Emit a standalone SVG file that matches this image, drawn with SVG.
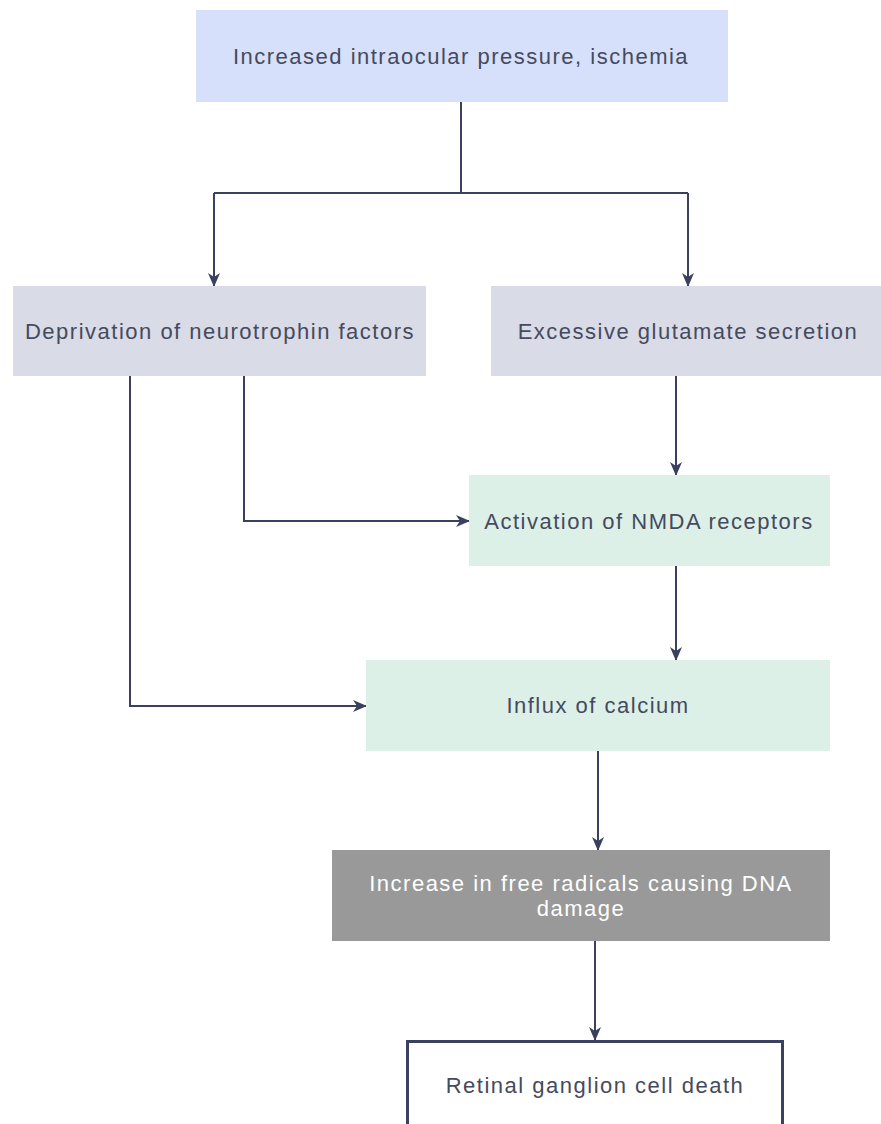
<svg xmlns="http://www.w3.org/2000/svg" width="881" height="1124" viewBox="0 0 881 1124">
<defs>
<marker id="arr" viewBox="0 0 14 14" refX="13" refY="7" markerWidth="14" markerHeight="14" markerUnits="userSpaceOnUse" orient="auto">
<path d="M0,1 L14,7 L0,13 L4,7 Z" fill="#3a4060"/>
</marker>
<style>
.lbl{font-family:"Liberation Sans",Arial,sans-serif;font-size:22px;fill:#454a5e;text-anchor:middle;letter-spacing:1.5px}
.w{fill:#ffffff}
.c{fill:none;stroke:#3a4060;stroke-width:2}
</style>
</defs>
<rect width="881" height="1124" fill="#ffffff"/>
<g id="connectors">
<path class="c" d="M461,102 V193"/>
<path class="c" d="M214,193 H688"/>
<path class="c" d="M214,193 V286" marker-end="url(#arr)"/>
<path class="c" d="M688,193 V286" marker-end="url(#arr)"/>
<path class="c" d="M676,376 V475" marker-end="url(#arr)"/>
<path class="c" d="M244,376 V521 H469" marker-end="url(#arr)"/>
<path class="c" d="M130,376 V706 H366" marker-end="url(#arr)"/>
<path class="c" d="M676,566 V660" marker-end="url(#arr)"/>
<path class="c" d="M598,751 V850" marker-end="url(#arr)"/>
<path class="c" d="M595,941 V1040" marker-end="url(#arr)"/>
</g>
<g id="n1">
<rect x="196" y="10" width="532" height="92" fill="#d6e0fb"/>
<text class="lbl" x="461" y="64">Increased intraocular pressure, ischemia</text>
</g>
<g id="n2">
<rect x="13" y="286" width="413" height="90" fill="#d9dbe6"/>
<text class="lbl" x="220" y="339">Deprivation of neurotrophin factors</text>
</g>
<g id="n3">
<rect x="491" y="286" width="390" height="90" fill="#d9dbe6"/>
<text class="lbl" x="688" y="339">Excessive glutamate secretion</text>
</g>
<g id="n4">
<rect x="469" y="475" width="361" height="91" fill="#dcf0e8"/>
<text class="lbl" x="649" y="529">Activation of NMDA receptors</text>
</g>
<g id="n5">
<rect x="366" y="660" width="464" height="91" fill="#dcf0e8"/>
<text class="lbl" x="598" y="713">Influx of calcium</text>
</g>
<g id="n6">
<rect x="332" y="850" width="498" height="91" fill="#999999"/>
<text class="lbl w" x="581" y="891">Increase in free radicals causing DNA</text>
<text class="lbl w" x="581" y="916">damage</text>
</g>
<g id="n7">
<rect x="407.5" y="1041.5" width="375" height="100" fill="#ffffff" stroke="#3a4060" stroke-width="3"/>
<text class="lbl" x="595" y="1093">Retinal ganglion cell death</text>
</g>
</svg>
